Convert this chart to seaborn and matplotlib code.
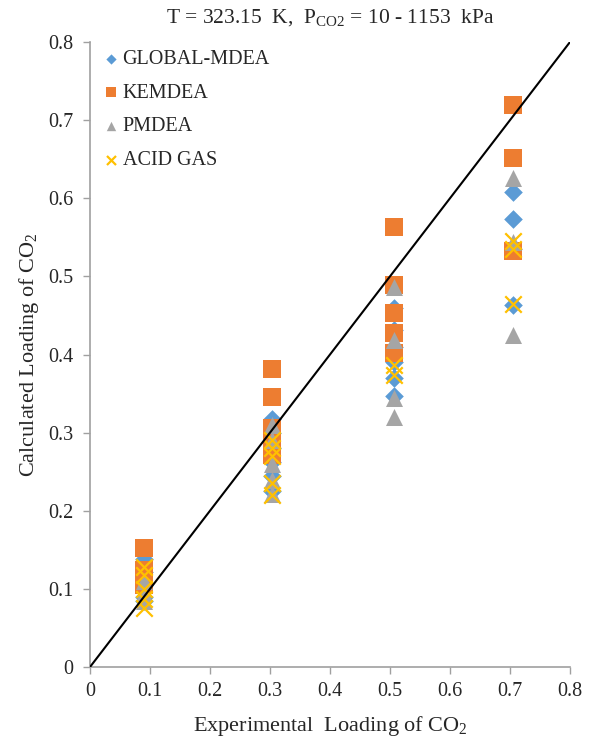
import numpy as np
import pandas as pd
import matplotlib
matplotlib.use('Agg')
import matplotlib.pyplot as plt
import seaborn as sns

# experimental loadings (x) and calculated loadings (y) per model
global_x = [0.09] * 5 + [0.303] * 6 + [0.507] * 6 + [0.705] * 4
global_y = [0.138, 0.122, 0.105, 0.090, 0.085,
            0.318, 0.300, 0.280, 0.262, 0.245, 0.225,
            0.460, 0.432, 0.410, 0.390, 0.370, 0.347,
            0.608, 0.573, 0.535, 0.463]

kemdea_x = [0.09] * 4 + [0.303] * 6 + [0.507] * 5 + [0.705] * 3
kemdea_y = [0.152, 0.124, 0.115, 0.105,
            0.381, 0.346, 0.306, 0.295, 0.284, 0.271,
            0.563, 0.489, 0.453, 0.428, 0.402,
            0.720, 0.652, 0.533]

pmdea_x = [0.09] * 3 + [0.303] * 5 + [0.507] * 4 + [0.705] * 3
pmdea_y = [0.110, 0.095, 0.085,
           0.310, 0.290, 0.260, 0.240, 0.222,
           0.487, 0.418, 0.344, 0.320,
           0.626, 0.544, 0.425]

acid_x = [0.09] * 5 + [0.303] * 5 + [0.507] * 2 + [0.705] * 3
acid_y = [0.128, 0.118, 0.100, 0.087, 0.075,
          0.290, 0.280, 0.270, 0.235, 0.220,
          0.387, 0.374,
          0.545, 0.535, 0.465]

sns.set_style('white')
plt.rcParams['font.family'] = ['Liberation Serif', 'DejaVu Serif']
plt.rcParams['mathtext.fontset'] = 'custom'
plt.rcParams['mathtext.rm'] = 'Liberation Serif'
plt.rcParams['mathtext.it'] = 'Liberation Serif:italic'

fig = plt.figure(figsize=(5.91, 7.42), dpi=100)
ax = fig.add_axes([90 / 591, 75 / 742, 480 / 591, 625 / 742])

series = [
    ('GLOBAL-MDEA', global_x, global_y, 'D', '#5B9BD5', 90),
    ('KEMDEA', kemdea_x, kemdea_y, 's', '#ED7D31', 160),
    ('PMDEA', pmdea_x, pmdea_y, '^', '#A5A5A5', 150),
    ('ACID GAS', acid_x, acid_y, 'x', '#FFC000', 140),
]
for name, xs, ys, mk, col, sz in series:
    df = pd.DataFrame({'x': xs, 'y': ys})
    kw = dict(linewidth=1.6) if mk == 'x' else dict(linewidth=0)
    sns.scatterplot(data=df, x='x', y='y', ax=ax, marker=mk, color=col,
                    s=sz, label=name, **kw)

ax.plot([0, 0.8], [0, 0.8], color='black', lw=1.5, zorder=5)

ax.set_xlim(0, 0.8)
ax.set_ylim(0, 0.8)
ticks = np.arange(0, 0.81, 0.1)
labels = ['0', '0.1', '0.2', '0.3', '0.4', '0.5', '0.6', '0.7', '0.8']
ax.set_xticks(ticks)
ax.set_yticks(ticks)
ax.set_xticklabels(labels)
ax.set_yticklabels(labels)
ax.tick_params(axis='both', labelsize=14.5, direction='out', length=5,
               color='#A0A0A0', width=1, bottom=True, left=True)
ax.tick_params(axis='y', pad=7)
ax.tick_params(axis='x', pad=6)
for side in ['top', 'right']:
    ax.spines[side].set_visible(False)
for side in ['left', 'bottom']:
    ax.spines[side].set_color('#A0A0A0')
    ax.spines[side].set_linewidth(1.2)

ax.set_xlabel('Experimental  Loading of CO$_2$', fontsize=16, labelpad=9)
ax.set_ylabel('Calculated Loading of CO$_2$', fontsize=16, labelpad=5)
ax.set_title(r'T = 323.15  K,  P$_{\mathrm{CO2}}$ = 10 - 1153  kPa', fontsize=15.5, pad=14)

leg = ax.legend(loc='upper left', frameon=False, fontsize=14.5, markerscale=0.55,
                handletextpad=0.1, labelspacing=0.72, borderaxespad=0.0,
                handlelength=1.0, bbox_to_anchor=(0.005, 1.0))

fig.savefig('out.png', dpi=100)
